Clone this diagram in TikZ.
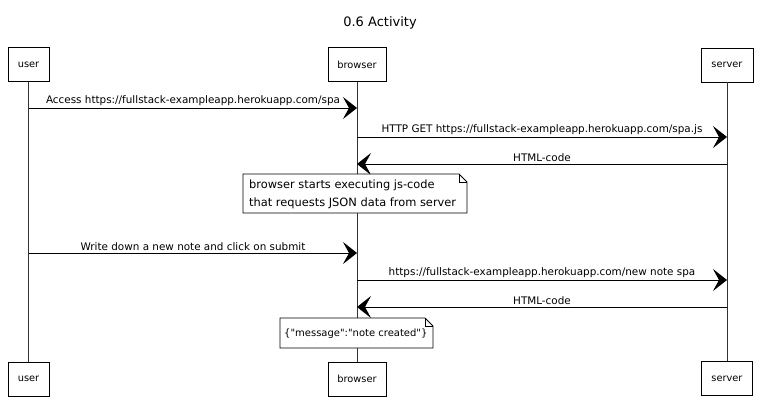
\documentclass[tikz,border=0pt]{standalone}
\usepackage{fontspec}
\setmainfont{DejaVu Sans}
\usetikzlibrary{arrows.meta,positioning}
\begin{document}
\begin{tikzpicture}[x=1pt,y=-1pt,
  every node/.style={font=\fontsize{10.4}{13}\selectfont},
  part/.style={draw,line width=0.8pt,minimum height=34pt,inner sep=0pt,font=\fontsize{9.8}{11}\selectfont},
  life/.style={line width=0.7pt,draw=black!80},
  msg/.style={line width=0.9pt,-{Stealth[length=14pt,width=22pt,inset=6pt]}},
  lbl/.style={above=1pt,inner sep=1pt},
  notebox/.style={line width=0.8pt,fill=white},
  notetext/.style={anchor=west,align=left,inner sep=0pt,font=\fontsize{11.4}{18}\selectfont}
]
\useasboundingbox (0,0) rectangle (761,412);
\node[font=\fontsize{13}{15}\selectfont] (title) at (380,23) {0.6 Activity};
% participants
\node[part,minimum width=41pt] (ut) at (28.5,64.5) {user};
\node[part,minimum width=58pt] (bt) at (357,64.5) {browser};
\node[part,minimum width=52pt] (st) at (727,65) {server};
\node[part,minimum width=41pt] (ub) at (28.5,379) {user};
\node[part,minimum width=58pt] (bb) at (357,379) {browser};
\node[part,minimum width=51pt] (sb) at (727,378.5) {server};
\draw[life] (ut) -- (ub);
\draw[life] (bt) -- (bb);
\draw[life] (st) -- (sb);
% message endpoints
\coordinate (u1) at (29,108);  \coordinate (b1) at (357,108);
\coordinate (b2) at (357,137); \coordinate (s2) at (727,137);
\coordinate (s3) at (727,164); \coordinate (b3) at (357,164);
\coordinate (u5) at (29,253);  \coordinate (b5) at (357,253);
\coordinate (b6) at (357,280); \coordinate (s6) at (727,280);
\coordinate (s7) at (727,307); \coordinate (b7) at (357,307);
\draw[msg] (u1) -- node[lbl] (m1) {Access https://fullstack-exampleapp.herokuapp.com/spa} (b1);
\draw[msg] (b2) -- node[lbl] (m2) {HTTP GET https://fullstack-exampleapp.herokuapp.com/spa.js} (s2);
\draw[msg] (s3) -- node[lbl] (m3) {HTML-code} (b3);
\draw[msg] (u5) -- node[lbl] (m5) {Write down a new note and click on submit} (b5);
\draw[msg] (b6) -- node[lbl] (m6) {https://fullstack-exampleapp.herokuapp.com/new note spa} (s6);
\draw[msg] (s7) -- node[lbl] (m7) {HTML-code} (b7);
% note 1
\draw[notebox] (243,174) -- (459,174) -- (467,182) -- (467,213) -- (243,213) -- cycle;
\draw[line width=0.6pt] (459,174) -- (459,182) -- (467,182);
\node[notetext] (n1) at (249,194.5) {browser starts executing js-code\\that requests JSON data from server};
% note 2
\draw[notebox] (280,318) -- (425,318) -- (433,326) -- (433,348) -- (280,348) -- cycle;
\draw[line width=0.6pt] (425,318) -- (425,326) -- (433,326);
\node[notetext,font=\fontsize{10}{12}\selectfont] (n2) at (284,334) {\{\textquotedbl message\textquotedbl:\textquotedbl note created\textquotedbl\}};
\end{tikzpicture}
\end{document}
